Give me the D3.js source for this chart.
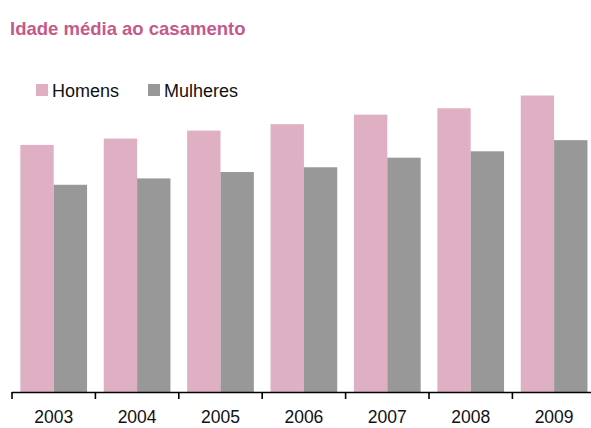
<!DOCTYPE html>
<html>
<head>
<meta charset="utf-8">
<script src="https://cdn.jsdelivr.net/npm/d3@7"></script>
<style>
  body { margin: 0; background: #fff; }
  svg { display: block; font-family: "Liberation Sans", Arial, sans-serif; }
</style>
</head>
<body>
<script>
// data
var years = ["2003", "2004", "2005", "2006", "2007", "2008", "2009"];
var homens = [30.5, 30.9, 31.4, 31.8, 32.4, 32.8, 33.6];
var mulheres = [28.0, 28.4, 28.8, 29.1, 29.7, 30.1, 30.8];
var seriesNames = ["Homens", "Mulheres"];
var seriesColors = ["#dfafc4", "#989898"];

var svgWidth = 591, svgHeight = 428;
var margin = {left: 12, right: 0, top: 73, bottom: 36};
var baseY = svgHeight - margin.bottom; // 392

var svg = d3.select("body").append("svg")
  .attr("width", svgWidth)
  .attr("height", svgHeight);

// title
svg.append("text")
  .attr("x", 10)
  .attr("y", 35)
  .attr("fill", "#c45a8c")
  .attr("font-weight", "bold")
  .attr("font-size", "18.5px")
  .text("Idade média ao casamento");

var x = d3.scaleBand()
  .domain(years)
  .range([margin.left, margin.left + 7 * 83.4])
  .padding(0);

var y = d3.scaleLinear()
  .domain([15, 35])
  .range([baseY, baseY - 20 * 15.94]);

var bw = x.bandwidth();
var barW = bw * 0.4;

var table = years.map(function(yr, i) {
  return {year: yr, values: [homens[i], mulheres[i]]};
});

var groups = svg.selectAll(".yr")
  .data(table)
  .enter().append("g")
  .attr("transform", d => `translate(${x(d.year) + bw * 0.1},0)`);

groups.selectAll("rect")
  .data(d => d.values)
  .enter().append("rect")
  .attr("x", (d, i) => i * barW)
  .attr("y", d => y(d))
  .attr("width", barW)
  .attr("height", d => baseY - y(d))
  .attr("fill", (d, i) => seriesColors[i]);

// x axis
var axis = svg.append("g")
  .attr("transform", `translate(0,${baseY})`);
axis.append("line")
  .attr("x1", margin.left).attr("x2", svgWidth)
  .attr("y1", 0.5).attr("y2", 0.5)
  .attr("stroke", "#000").attr("stroke-width", 1.6);
axis.selectAll(".tick")
  .data(years.concat(["end"]))
  .enter().append("line")
  .attr("x1", (d, i) => margin.left + i * bw)
  .attr("x2", (d, i) => margin.left + i * bw)
  .attr("y1", 0).attr("y2", 7)
  .attr("stroke", "#000").attr("stroke-width", 1.6);
axis.selectAll(".lbl")
  .data(years)
  .enter().append("text")
  .attr("x", d => x(d) + bw / 2)
  .attr("y", 31)
  .attr("text-anchor", "middle")
  .attr("font-size", "17.5px")
  .attr("fill", "#111")
  .text(d => d);

// legend
var legX = [36, 148];
var legend = svg.selectAll(".leg")
  .data(seriesNames)
  .enter().append("g")
  .attr("transform", (d, i) => `translate(${legX[i]},84)`);
legend.append("rect")
  .attr("width", 12).attr("height", 12)
  .attr("fill", (d, i) => seriesColors[i]);
legend.append("text")
  .attr("x", 16).attr("y", 12.5)
  .attr("font-size", "18px")
  .attr("fill", "#111")
  .text(d => d);
</script>
</body>
</html>
